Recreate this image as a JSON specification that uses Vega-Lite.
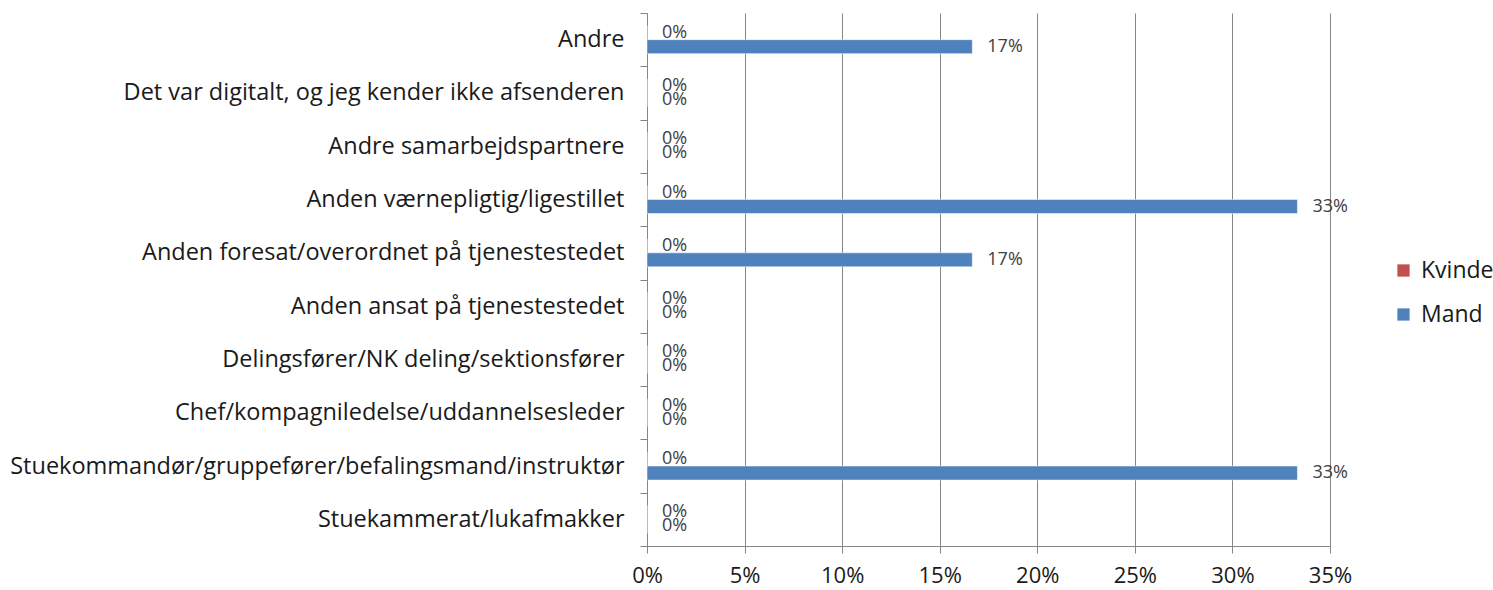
{
  "$schema": "https://vega.github.io/schema/vega-lite/v6.json",
  "width": 683,
  "height": 533,
  "autosize": {"type": "none"},
  "padding": {"left": 647, "top": 13, "right": 163, "bottom": 44},
  "background": "white",
  "config": {"view": {"stroke": null}, "font": "Open Sans"},
  "data": {"values": [
    {"kategori": "Andre", "koen": "Kvinde", "andel": 0},
    {"kategori": "Andre", "koen": "Mand", "andel": 0.1667},
    {"kategori": "Det var digitalt, og jeg kender ikke afsenderen", "koen": "Kvinde", "andel": 0},
    {"kategori": "Det var digitalt, og jeg kender ikke afsenderen", "koen": "Mand", "andel": 0},
    {"kategori": "Andre samarbejdspartnere", "koen": "Kvinde", "andel": 0},
    {"kategori": "Andre samarbejdspartnere", "koen": "Mand", "andel": 0},
    {"kategori": "Anden værnepligtig/ligestillet", "koen": "Kvinde", "andel": 0},
    {"kategori": "Anden værnepligtig/ligestillet", "koen": "Mand", "andel": 0.3333},
    {"kategori": "Anden foresat/overordnet på tjenestestedet", "koen": "Kvinde", "andel": 0},
    {"kategori": "Anden foresat/overordnet på tjenestestedet", "koen": "Mand", "andel": 0.1667},
    {"kategori": "Anden ansat på tjenestestedet", "koen": "Kvinde", "andel": 0},
    {"kategori": "Anden ansat på tjenestestedet", "koen": "Mand", "andel": 0},
    {"kategori": "Delingsfører/NK deling/sektionsfører", "koen": "Kvinde", "andel": 0},
    {"kategori": "Delingsfører/NK deling/sektionsfører", "koen": "Mand", "andel": 0},
    {"kategori": "Chef/kompagniledelse/uddannelsesleder", "koen": "Kvinde", "andel": 0},
    {"kategori": "Chef/kompagniledelse/uddannelsesleder", "koen": "Mand", "andel": 0},
    {"kategori": "Stuekommandør/gruppefører/befalingsmand/instruktør", "koen": "Kvinde", "andel": 0},
    {"kategori": "Stuekommandør/gruppefører/befalingsmand/instruktør", "koen": "Mand", "andel": 0.3333},
    {"kategori": "Stuekammerat/lukafmakker", "koen": "Kvinde", "andel": 0},
    {"kategori": "Stuekammerat/lukafmakker", "koen": "Mand", "andel": 0}
  ]},
  "encoding": {
    "y": {
      "field": "kategori", "type": "nominal", "sort": null,
      "scale": {"paddingInner": 0, "paddingOuter": 0},
      "axis": {
        "title": null, "tickBand": "extent", "labelFontSize": 23.5, "labelColor": "#1a1a1a",
        "labelPadding": 16, "tickSize": 7, "tickColor": "#868686", "domainColor": "#868686",
        "labelLimit": 700, "grid": false
      }
    },
    "yOffset": {
      "field": "koen", "type": "nominal", "sort": ["Kvinde", "Mand"],
      "scale": {"paddingInner": 0, "paddingOuter": 0.905}
    },
    "x": {
      "field": "andel", "type": "quantitative",
      "scale": {"domain": [0, 0.35], "nice": false},
      "axis": {
        "title": null, "format": ".0%", "values": [0, 0.05, 0.1, 0.15, 0.2, 0.25, 0.3, 0.35],
        "labelFontSize": 22, "labelColor": "#1a1a1a", "labelPadding": 12, "labelFlush": false,
        "grid": true, "gridColor": "#868686", "tickColor": "#868686", "domainColor": "#868686",
        "tickSize": 7
      }
    }
  },
  "layer": [
    {
      "mark": {"type": "bar", "stroke": "white", "strokeWidth": 0.5},
      "encoding": {
        "color": {
          "field": "koen", "type": "nominal",
          "scale": {"domain": ["Kvinde", "Mand"], "range": ["#C0504D", "#4F81BD"]},
          "legend": {
            "title": null, "orient": "none", "legendX": 745, "legendY": 246,
            "symbolType": "square", "symbolSize": 150, "symbolStrokeWidth": 0,
            "labelFontSize": 23, "labelColor": "#1a1a1a", "rowPadding": 20, "labelOffset": 6
          }
        }
      }
    },
    {
      "mark": {"type": "text", "align": "left", "baseline": "middle", "dx": 15, "fontSize": 18, "color": "#404040"},
      "encoding": {
        "text": {"field": "andel", "type": "quantitative", "format": ".0%"}
      }
    }
  ]
}
